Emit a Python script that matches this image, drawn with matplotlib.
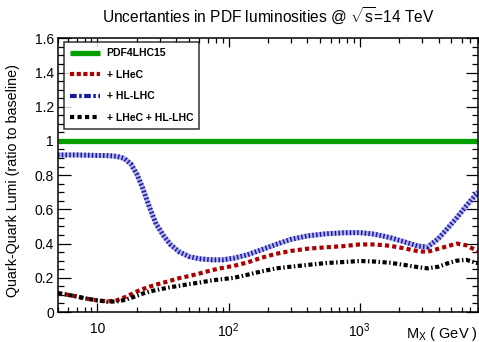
import math
import matplotlib
matplotlib.use("Agg")
import matplotlib.pyplot as plt
from matplotlib.lines import Line2D
from matplotlib.ticker import LogLocator, FuncFormatter, MultipleLocator, NullFormatter

plt.rcParams['font.family'] = ['Liberation Sans', 'DejaVu Sans']
plt.rcParams['mathtext.fontset'] = 'custom'
plt.rcParams['mathtext.rm'] = 'Liberation Sans'
plt.rcParams['mathtext.it'] = 'Liberation Sans:italic'

# invariant mass M_X (GeV)
mass = [5, 6, 7, 8, 10, 12, 14, 16, 18, 20, 22, 25, 28, 32, 36, 42, 50, 60, 75, 90,
        110, 140, 180, 230, 300, 400, 550, 750, 1000, 1300, 1700, 2200, 2800, 3300,
        4000, 4700, 5500, 6500, 8000]

# ratio of quark-quark luminosity uncertainty to the PDF4LHC15 baseline
pdf4lhc15 = [1.0] * len(mass)
lhec = [0.110, 0.100, 0.090, 0.080, 0.068, 0.062, 0.068, 0.085, 0.103, 0.120,
        0.133, 0.148, 0.160, 0.172, 0.183, 0.198, 0.210, 0.225, 0.245, 0.258,
        0.270, 0.290, 0.318, 0.340, 0.357, 0.370, 0.378, 0.385, 0.395, 0.395,
        0.387, 0.372, 0.355, 0.352, 0.370, 0.385, 0.400, 0.390, 0.355]
hllhc = [0.918, 0.918, 0.918, 0.917, 0.915, 0.914, 0.910, 0.898, 0.865, 0.805,
         0.730, 0.610, 0.515, 0.445, 0.395, 0.352, 0.324, 0.311, 0.305, 0.305,
         0.315, 0.335, 0.365, 0.395, 0.425, 0.445, 0.457, 0.463, 0.464, 0.455,
         0.435, 0.410, 0.385, 0.380, 0.430, 0.490, 0.550, 0.620, 0.700]
lhec_hllhc = [0.110, 0.100, 0.090, 0.080, 0.068, 0.060, 0.062, 0.070, 0.082, 0.095,
              0.107, 0.120, 0.128, 0.137, 0.145, 0.153, 0.163, 0.172, 0.185, 0.192,
              0.200, 0.218, 0.238, 0.255, 0.265, 0.275, 0.286, 0.292, 0.298, 0.295,
              0.288, 0.275, 0.262, 0.255, 0.265, 0.285, 0.300, 0.305, 0.285]

labels = ["PDF4LHC15", "+ LHeC", "+ HL-LHC", "+ LHeC + HL-LHC"]

green = "#00a000"
red = "#aa0000"
blue = "#1818a8"

fig = plt.figure(figsize=(4.79, 3.42), dpi=100)
ax = fig.add_axes([58 / 479, 1 - 312 / 342, 420 / 479, 273.7 / 342])

ax.plot(mass, pdf4lhc15, color=green, lw=3.8, solid_capstyle="butt")
ax.plot(mass, lhec, color=red, lw=3.0, dashes=(1.0, 0.75), dash_capstyle="butt")
# HL-LHC drawn as a fine hatched band: pale underlay plus dense dark strokes
ax.plot(mass, hllhc, color="#b4b4e6", lw=3.6)
ax.plot(mass, hllhc, color=blue, lw=3.6, dashes=(0.3, 0.45), dash_capstyle="butt")
ax.plot(mass, lhec_hllhc, color="black", lw=3.0, dashes=(1.0, 0.6, 0.35, 0.6),
        dash_capstyle="butt")

ax.set_xscale("log")
ax.set_xlim(5, 8000)
ax.set_ylim(0, 1.6)

ax.xaxis.set_major_locator(LogLocator(base=10, numticks=10))
ax.xaxis.set_minor_locator(LogLocator(base=10, subs=range(2, 10), numticks=20))
ax.xaxis.set_minor_formatter(NullFormatter())
ax.xaxis.set_major_formatter(FuncFormatter(
    lambda v, p: "10" if abs(v - 10) < 1e-6 else r"$10^{%d}$" % round(math.log10(v))))
ax.yaxis.set_major_locator(MultipleLocator(0.2))
ax.yaxis.set_minor_locator(MultipleLocator(0.05))
ax.yaxis.set_major_formatter(FuncFormatter(lambda v, p: "%g" % round(v, 2)))

ax.tick_params(which="both", direction="in", top=True, right=True, width=0.9, labelsize=10)
ax.tick_params(axis="x", which="major", length=6.5, pad=7)
ax.tick_params(axis="x", which="minor", length=3.3)
ax.tick_params(axis="y", which="major", length=9, pad=3)
ax.tick_params(axis="y", which="minor", length=4.5)
for s in ax.spines.values():
    s.set_linewidth(1.1)

ax.set_title(r"Uncertanties in PDF luminosities @ $\sqrt{\mathrm{s}}$=14 TeV",
             fontsize=11.2, pad=11)
ax.set_ylabel("Quark-Quark Lumi (ratio to baseline)", fontsize=10.3)
ax.yaxis.set_label_coords(-0.09, 0.48)
ax.set_xlabel(r"M$_{\mathrm{X}}$ ( GeV )", fontsize=10.5, ha="right")
ax.xaxis.set_label_coords(1.0, -0.048)

handles = [
    Line2D([], [], color=green, lw=3.8, solid_capstyle="butt"),
    Line2D([], [], color=red, lw=3.0, dashes=(1.0, 0.6), dash_capstyle="butt"),
    Line2D([], [], color=blue, lw=3.0, dashes=(1.6, 0.6, 0.6, 0.6), dash_capstyle="butt"),
    Line2D([], [], color="black", lw=3.0, dashes=(1.0, 0.8), dash_capstyle="butt"),
]
leg = ax.legend(handles, labels, loc="upper left", bbox_to_anchor=(0.014, 0.986),
                borderaxespad=0, frameon=True, fancybox=False, handlelength=2.9,
                handletextpad=0.6, labelspacing=1.1, borderpad=0.6,
                prop={"size": 7.5, "weight": "bold"})
leg.get_frame().set_edgecolor("black")
leg.get_frame().set_linewidth(1.1)

fig.savefig("out.png", dpi=100)
